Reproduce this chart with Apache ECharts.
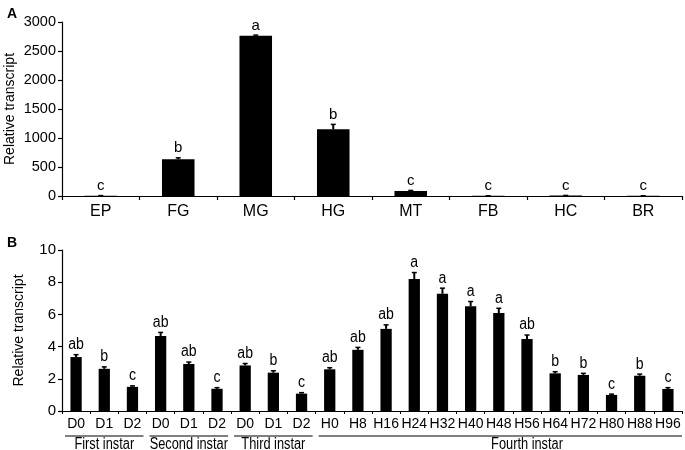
<!DOCTYPE html>
<html><head><meta charset="utf-8">
<script src="https://cdn.jsdelivr.net/npm/echarts@6/dist/echarts.min.js"></script>
<style>html,body{margin:0;padding:0;background:#fff}#c{width:685px;height:450px}</style>
</head><body><div id="c"></div>
<script>
// Panel A data
const tissues = ['EP','FG','MG','HG','MT','FB','HC','BR'];
const tissueVals = [5, 633, 2764, 1150, 86, 3, 8, 3];
const tissueErr = [2, 25, 10, 85, 10, 1, 2, 1];
const tissueLetters = ['c','b','a','b','c','c','c','c'];
const yTicksA = [0, 500, 1000, 1500, 2000, 2500, 3000];

// Panel B data
const stages = ['D0','D1','D2','D0','D1','D2','D0','D1','D2','H0','H8','H16','H24','H32','H40','H48','H56','H64','H72','H80','H88','H96'];
const stageVals = [3.35, 2.62, 1.50, 4.66, 2.92, 1.38, 2.83, 2.38, 1.08, 2.59, 3.80, 5.10, 8.20, 7.28, 6.50, 6.08, 4.47, 2.34, 2.24, 1.00, 2.19, 1.37];
const stageErr = [0.15, 0.12, 0.06, 0.22, 0.12, 0.07, 0.12, 0.12, 0.06, 0.10, 0.15, 0.25, 0.40, 0.35, 0.30, 0.30, 0.25, 0.10, 0.10, 0.05, 0.10, 0.08];
const stageLetters = ['ab','b','c','ab','ab','c','ab','b','c','ab','ab','ab','a','a','a','a','ab','b','b','c','b','c'];
const yTicksB = [0, 2, 4, 6, 8, 10];

// Groups under panel B
const groupNames = ['First instar','Second instar','Third instar','Fourth instar'];
const groupStart = [0, 3, 6, 9];
const groupEnd = [2, 5, 8, 21];
const groupLabelPos = [1, 4, 7, 15.8];

const FONT = 'Liberation Sans, Arial, sans-serif';

function errRender(vals, errs, letters, size, sx) {
  return function (params, api) {
    const i = params.dataIndex;
    const base = api.coord([i, vals[i]]);
    const top = api.coord([i, vals[i] + errs[i]]);
    return {
      type: 'group',
      children: [
        {type: 'line', shape: {x1: base[0], y1: base[1], x2: top[0], y2: top[1]}, style: {stroke: '#000', lineWidth: 2}},
        {type: 'line', shape: {x1: top[0] - 2.5, y1: top[1], x2: top[0] + 2.5, y2: top[1]}, style: {stroke: '#000', lineWidth: 1.5}},
        {type: 'text', x: top[0], y: top[1] - 2, scaleX: sx,
         style: {text: letters[i], x: 0, y: 0, align: 'center', verticalAlign: 'bottom', fontSize: size, fontFamily: FONT, fill: '#000'}}
      ]
    };
  };
}

const chart = echarts.init(document.getElementById('c'), null, {renderer: 'canvas'});
chart.setOption({
  animation: false,
  backgroundColor: '#fff',
  grid: [
    {left: 62, right: 3, top: 22, height: 174, containLabel: false, outerBoundsMode: 'none'},
    {left: 62, right: 3, top: 250, height: 161, containLabel: false, outerBoundsMode: 'none'}
  ],
  title: [
    {text: 'A', left: 2, top: 2, textStyle: {fontSize: 14, fontWeight: 'bold', fontFamily: FONT, color: '#000'}},
    {text: 'B', left: 2, top: 231, textStyle: {fontSize: 14, fontWeight: 'bold', fontFamily: FONT, color: '#000'}}
  ],
  xAxis: [
    {type: 'category', gridIndex: 0, data: tissues, boundaryGap: true,
     axisLine: {lineStyle: {color: '#000', width: 1.2}},
     axisTick: {show: true, length: 4, interval: 0, lineStyle: {color: '#000', width: 1.2}},
     axisLabel: {interval: 0, margin: 8, color: '#000', fontSize: 16, fontFamily: FONT}},
    {type: 'category', gridIndex: 1, data: stages, boundaryGap: true,
     axisLine: {lineStyle: {color: '#000', width: 1.2}},
     axisTick: {show: true, length: 3, interval: 0, lineStyle: {color: '#000', width: 1}},
     axisLabel: {interval: 0, margin: 6, color: '#000', fontSize: 14, fontFamily: FONT}}
  ],
  yAxis: [
    {type: 'value', gridIndex: 0, min: yTicksA[0], max: yTicksA[yTicksA.length - 1], interval: 500,
     name: 'Relative transcript', nameLocation: 'middle', nameGap: 45, nameMoveOverlap: false,
     nameTextStyle: {fontSize: 14, fontFamily: FONT, color: '#000'},
     axisLine: {show: true, lineStyle: {color: '#000', width: 1.2}},
     axisTick: {show: true, length: 4, lineStyle: {color: '#000', width: 1.2}},
     splitLine: {show: false},
     axisLabel: {margin: 6, color: '#000', fontSize: 14.5, fontFamily: FONT, formatter: v => String(v)}},
    {type: 'value', gridIndex: 1, min: yTicksB[0], max: yTicksB[yTicksB.length - 1], interval: 2,
     name: 'Relative transcript', nameLocation: 'middle', nameGap: 36, nameMoveOverlap: false,
     nameTextStyle: {fontSize: 14, fontFamily: FONT, color: '#000'},
     axisLine: {show: true, lineStyle: {color: '#000', width: 1.2}},
     axisTick: {show: true, length: 4, lineStyle: {color: '#000', width: 1.2}},
     splitLine: {show: false},
     axisLabel: {margin: 6, color: '#000', fontSize: 15, fontFamily: FONT, formatter: v => String(v)}}
  ],
  series: [
    {type: 'bar', xAxisIndex: 0, yAxisIndex: 0, data: tissueVals, barWidth: '42%', itemStyle: {color: '#000'}},
    {type: 'custom', xAxisIndex: 0, yAxisIndex: 0, clip: false,
     data: tissueVals.map((v, i) => [i, v]), encode: {x: 0, y: 1},
     renderItem: errRender(tissueVals, tissueErr, tissueLetters, 15, 1), z: 5},
    {type: 'bar', xAxisIndex: 1, yAxisIndex: 1, data: stageVals, barWidth: '40%', itemStyle: {color: '#000'}},
    {type: 'custom', xAxisIndex: 1, yAxisIndex: 1, clip: false,
     data: stageVals.map((v, i) => [i, v]), encode: {x: 0, y: 1},
     renderItem: errRender(stageVals, stageErr, stageLetters, 16, 0.88), z: 5},
    {type: 'custom', xAxisIndex: 1, yAxisIndex: 1, clip: false,
     data: groupNames.map((n, i) => [groupStart[i], 0]), encode: {x: 0, y: 1},
     renderItem: function (params, api) {
       const g = params.dataIndex;
       const band = api.size([1, 0])[0];
       const s = api.coord([groupStart[g], 0]);
       const e = api.coord([groupEnd[g], 0]);
       const c = api.coord([groupLabelPos[g], 0]);
       const ly = s[1] + 25;
       return {type: 'group', children: [
         {type: 'line', shape: {x1: s[0] - band / 2 + 3, y1: ly, x2: e[0] + band / 2 - (g === 3 ? 0 : 3), y2: ly}, style: {stroke: '#000', lineWidth: 1}},
         {type: 'text', x: c[0], y: ly + 1, scaleX: 0.8,
          style: {text: groupNames[g], x: 0, y: 0, align: 'center', verticalAlign: 'top', fontSize: 16, fontFamily: FONT, fill: '#000'}}
       ]};
     }}
  ]
});
</script></body></html>
